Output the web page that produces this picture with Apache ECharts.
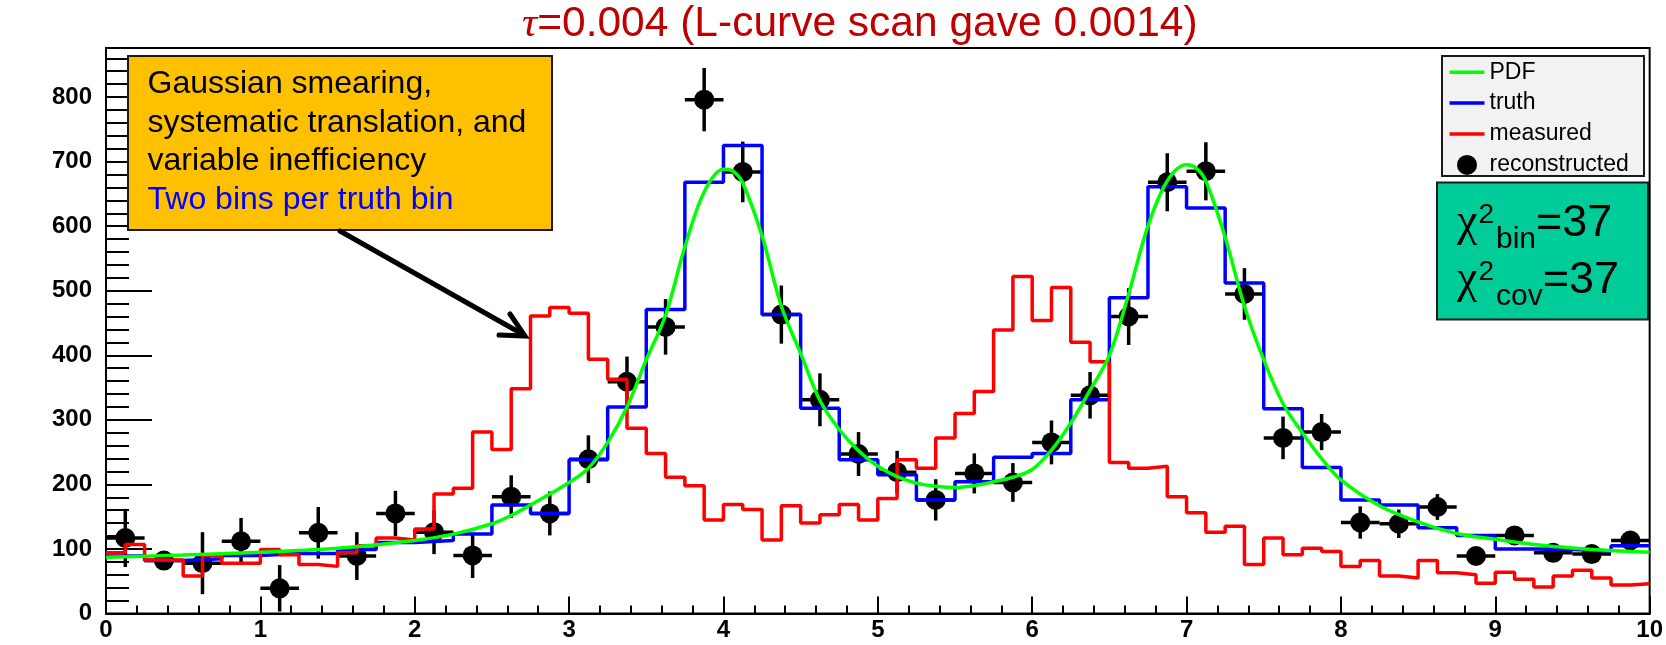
<!DOCTYPE html>
<html>
<head>
<meta charset="utf-8">
<script src="https://cdn.jsdelivr.net/npm/echarts@6/dist/echarts.min.js"></script>
<style>
  html, body { margin: 0; padding: 0; background: #ffffff; }
  #chart { width: 1666px; height: 645px; }
</style>
</head>
<body>
<div id="chart"></div>
<script>
// ---- axis ranges and tick labels ----
const xRange = [0, 10];
const yMax = 876;
const xTicks = [0, 1, 2, 3, 4, 5, 6, 7, 8, 9, 10];
const yTicks = [0, 100, 200, 300, 400, 500, 600, 700, 800];

// ---- truth histogram: 40 bins over [0,10] ----
const truth = [89, 82, 85, 90, 93, 93, 99, 110, 113, 123,
               168, 155, 238, 320, 471, 668, 725, 463, 318, 238,
               215, 176, 204, 242, 248, 331, 489, 661, 628, 512,
               317, 226, 176, 168, 133, 121, 100, 99, 97, 105];

// ---- measured histogram: 80 bins over [0,10] ----
const measured = [94, 107, 83, 83, 58, 90, 78, 78, 99, 91,
                  76, 73, 94, 105, 117, 114, 131, 185, 194, 281,
                  254, 348, 461, 474, 465, 394, 363, 287, 248, 211,
                  198, 145, 169, 161, 114, 167, 140, 153, 169, 145,
                  178, 238, 225, 272, 310, 344, 439, 522, 454, 505,
                  420, 390, 234, 225, 228, 181, 156, 126, 135, 76,
                  117, 91, 101, 96, 73, 82, 58, 55, 82, 63,
                  60, 47, 64, 53, 41, 58, 67, 55, 44, 46];

// ---- unfolded result, one value per truth bin, with its uncertainty ----
const reconstructed = [117, 82, 78, 112, 39, 125, 89, 155, 126, 90,
                       181, 155, 239, 359, 444, 796, 684, 463, 331, 247,
                       219, 176, 217, 203, 265, 338, 460, 668, 685, 495,
                       272, 281, 141, 139, 165, 89, 121, 94, 92, 113];
const reconstructedErr = [45, 10, 48, 36, 36, 40, 37, 35, 34, 35,
                          33, 34, 37, 39, 43, 49, 47, 45, 41, 34,
                          33, 32, 31, 30, 34, 36, 44, 45, 45, 40,
                          33, 28, 25, 22, 20, 10, 10, 10, 10, 10];

// ---- underlying PDF curve ----
const pdfX = [0, 0.5, 1.0, 1.5, 2.0, 2.25, 2.5, 2.625, 2.75, 2.875,
              3.0, 3.125, 3.25, 3.375, 3.5, 3.625, 3.75, 3.875, 4.0, 4.0625,
              4.125, 4.25, 4.375, 4.5, 4.625, 4.75, 4.875, 5.0, 5.125, 5.25,
              5.375, 5.5, 5.625, 5.75, 5.875, 6.0, 6.125, 6.25, 6.375, 6.5,
              6.625, 6.75, 6.875, 7.0, 7.0625, 7.125, 7.25, 7.375, 7.5, 7.625,
              7.75, 7.875, 8.0, 8.25, 8.5, 8.75, 9.0, 9.25, 9.5, 9.75, 10];
const pdfY = [87, 90.5, 95, 101, 113, 123, 139, 152, 168, 185,
              203, 225, 265, 320, 393, 462, 568, 653, 688, 685,
              667, 585, 476, 403, 330, 285, 252, 228, 212, 202,
              197, 195, 198, 204, 211, 223, 253, 295, 346, 400,
              495, 600, 670, 695, 690, 670, 583, 476, 393, 325,
              280, 240, 207, 167, 142, 124, 115, 107, 101.5, 97.5, 95];

// ---- texts ----
const titleText = '=0.004 (L-curve scan gave 0.0014)';
const legendNames = ['PDF', 'truth', 'measured', 'reconstructed'];
const noteLines = ['Gaussian smearing,', 'systematic translation, and', 'variable inefficiency'];
const noteBlueLine = 'Two bins per truth bin';
const chiRows = [['bin', '=37'], ['cov', '=37']];

// ---- derived series data ----
function histSteps(values) {
  const w = (xRange[1] - xRange[0]) / values.length;
  const pts = values.map((v, i) => [xRange[0] + i * w, v]);
  pts.push([xRange[1], values[values.length - 1]]);
  return pts;
}
const truthWidth = (xRange[1] - xRange[0]) / truth.length;
const recoData = reconstructed.map((v, i) => [xRange[0] + (i + 0.5) * truthWidth, v, reconstructedErr[i]]);
const pdfData = pdfX.map((x, i) => [x, pdfY[i]]);

const FONT = '"Liberation Sans", Arial, Helvetica, sans-serif';
const SERIF = '"Liberation Serif", "Times New Roman", serif';
const lineIcon = 'path://M0,0L35,0L35,3.5L0,3.5Z';

// text measuring for the fit-quality box
const measureCtx = document.createElement('canvas').getContext('2d');
function textWidth(str, font) { measureCtx.font = font; return measureCtx.measureText(str).width; }
// y for a 'middle' aligned text whose baseline should sit at `base`
function mid(base, size) { return base - 0.3465 * size; }

function textEl(str, x, baseY, size, color, family) {
  return {
    type: 'text', x: x, y: mid(baseY, size), z: 12,
    style: {
      text: str, font: size + 'px ' + (family || FONT), fill: color,
      align: 'left', verticalAlign: 'middle', textAlign: 'left', textVerticalAlign: 'middle'
    }
  };
}

// fit-quality box contents: chi^2 with superscript and subscript
const chiEls = [];
const chiBase = [239, 295.7];
chiRows.forEach((row, r) => {
  const b = chiBase[r];
  let x = 1457;
  chiEls.push(textEl('χ', x, b, 46, '#000', SERIF));
  x += textWidth('χ', '46px ' + SERIF) + 1;
  chiEls.push(textEl('2', x, b - 14, 28, '#000'));
  x += textWidth('2', '28px ' + FONT) + 2;
  chiEls.push(textEl(row[0], x, b + 11, 30, '#000'));
  x += textWidth(row[0], '30px ' + FONT);
  chiEls.push(textEl(row[1], x, b, 45, '#000'));
});

// annotation box text
const noteEls = [];
const noteBase = [95.7, 134.1, 172.5, 210.9];
noteLines.forEach((s, i) => noteEls.push(textEl(s, 147.5, noteBase[i], 32, '#000')));
noteEls.push(textEl(noteBlueLine, 147.5, noteBase[3], 32, '#0000ff'));

const chart = echarts.init(document.getElementById('chart'), null, { renderer: 'canvas' });

const axisFont = { fontFamily: FONT, fontWeight: 'bold', fontSize: 24, color: '#000' };

chart.setOption({
  animation: false,
  backgroundColor: '#ffffff',
  title: {
    text: '{tau|τ}' + titleText,
    left: 522, top: 3, padding: 0,
    textStyle: {
      fontFamily: FONT, fontSize: 42.5, fontWeight: 'normal', color: '#c00000',
      rich: { tau: { fontFamily: SERIF, fontStyle: 'italic', fontSize: 42.5, color: '#c00000' } }
    }
  },
  grid: {
    left: 106, top: 48, width: 1548, height: 565.5,
    show: true, borderColor: '#000', borderWidth: 2, backgroundColor: 'transparent'
  },
  legend: {
    orient: 'vertical', left: 1449.5, top: 60.7, padding: 0,
    itemWidth: 35, itemHeight: 20, itemGap: 7.9, z: 20,
    selectedMode: false,
    textStyle: { fontFamily: FONT, fontSize: 23, color: '#000', lineHeight: 20 },
    data: [
      { name: legendNames[0], icon: lineIcon },
      { name: legendNames[1], icon: lineIcon },
      { name: legendNames[2], icon: lineIcon },
      { name: legendNames[3], icon: 'circle' }
    ]
  },
  xAxis: {
    type: 'value', min: xRange[0], max: xRange[1], interval: 1,
    axisLine: { show: true, onZero: false, lineStyle: { color: '#000', width: 2 } },
    axisTick: { show: true, inside: true, length: 17, lineStyle: { color: '#000', width: 2 } },
    minorTick: { show: true, splitNumber: 5, length: 8, lineStyle: { color: '#000', width: 2 } },
    axisLabel: {
      margin: 5, ...axisFont,
      formatter: v => (xTicks.indexOf(v) >= 0 ? String(v) : '')
    },
    splitLine: { show: false }
  },
  yAxis: [
    {
      type: 'value', min: 0, max: yMax, interval: 100, position: 'left',
      axisLine: { show: true, onZero: false, lineStyle: { color: '#000', width: 2 } },
      axisTick: { show: true, inside: true, length: 46, lineStyle: { color: '#000', width: 2 } },
      axisLabel: {
        margin: 14, showMaxLabel: false, ...axisFont,
        formatter: v => (yTicks.indexOf(v) >= 0 ? String(v) : '')
      },
      splitLine: { show: false }
    },
    {
      // finer tick marks every 20 units
      type: 'value', min: 0, max: yMax, interval: 20, position: 'left', offset: 0,
      axisLine: { show: false },
      axisTick: { show: true, inside: true, length: 23, lineStyle: { color: '#000', width: 2 } },
      axisLabel: { show: false },
      splitLine: { show: false }
    }
  ],
  series: [
    {
      name: legendNames[1], type: 'line', step: 'end', data: histSteps(truth),
      symbol: 'none', color: '#0000ff',
      lineStyle: { color: '#0000ff', width: 3.5 }
    },
    {
      name: legendNames[2], type: 'line', step: 'end', data: histSteps(measured),
      symbol: 'none', color: '#ff0000',
      lineStyle: { color: '#ff0000', width: 3.5 }
    },
    {
      name: legendNames[0], type: 'line', smooth: 0.35, data: pdfData,
      symbol: 'none', color: '#00ff00',
      lineStyle: { color: '#00ff00', width: 3.5 }
    },
    {
      name: 'errors', type: 'custom', data: recoData,
      encode: { x: 0, y: 1 },
      renderItem: function (params, api) {
        const x = api.value(0), y = api.value(1), e = api.value(2);
        const hw = truthWidth / 2;
        const top = api.coord([x, y + e]);
        const bot = api.coord([x, y - e]);
        const l = api.coord([x - hw, y]);
        const r = api.coord([x + hw, y]);
        const style = { stroke: '#000', lineWidth: 3.5 };
        return {
          type: 'group',
          children: [
            { type: 'line', shape: { x1: top[0], y1: top[1], x2: bot[0], y2: bot[1] }, style: style },
            { type: 'line', shape: { x1: l[0], y1: l[1], x2: r[0], y2: r[1] }, style: style }
          ]
        };
      }
    },
    {
      name: legendNames[3], type: 'scatter', data: recoData.map(d => [d[0], d[1]]),
      symbol: 'circle', symbolSize: 20, color: '#000',
      itemStyle: { color: '#000', opacity: 1 }
    }
  ],
  graphic: {
    elements: [
      // annotation box with arrow
      {
        type: 'rect', z: 10,
        shape: { x: 128, y: 56, width: 424, height: 174 },
        style: { fill: '#ffc000', stroke: '#1a1a1a', lineWidth: 2 }
      },
      ...noteEls,
      {
        type: 'polyline', z: 12,
        shape: { points: [[340, 231], [524, 335]] },
        style: { stroke: '#000', lineWidth: 5, fill: null, lineCap: 'round' }
      },
      {
        type: 'polyline', z: 12,
        shape: { points: [[510, 314], [525, 336], [499, 335]] },
        style: { stroke: '#000', lineWidth: 5, fill: null, lineCap: 'round', lineJoin: 'miter' }
      },
      // legend frame
      {
        type: 'rect', z: 10,
        shape: { x: 1442, y: 56, width: 202, height: 120 },
        style: { fill: '#f2f2f2', stroke: '#1a1a1a', lineWidth: 2 }
      },
      // fit-quality box
      {
        type: 'rect', z: 10,
        shape: { x: 1437, y: 182.5, width: 211, height: 137 },
        style: { fill: '#00cc99', stroke: '#1a1a1a', lineWidth: 2 }
      },
      ...chiEls
    ]
  }
});
</script>
</body>
</html>
